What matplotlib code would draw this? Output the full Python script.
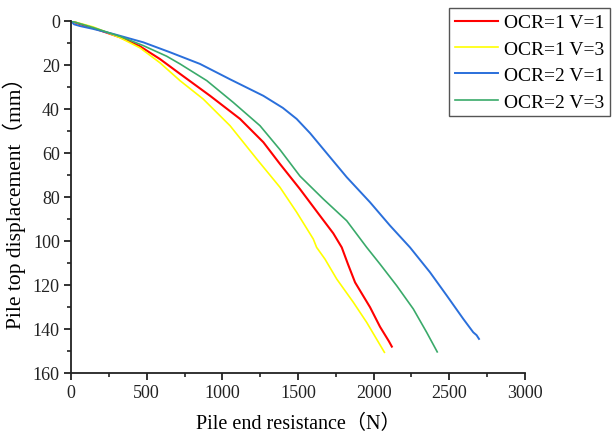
import matplotlib
matplotlib.use("Agg")
import matplotlib.pyplot as plt
from matplotlib.ticker import MultipleLocator

FONT = ['Liberation Serif', 'Noto Sans CJK SC', 'DejaVu Sans']
plt.rcParams['font.family'] = FONT

labels = ["OCR=1 V=1", "OCR=1 V=3", "OCR=2 V=1", "OCR=2 V=3"]
colors = ["#ff0000", "#ffff00", "#2a6fdb", "#3aaa6a"]

red_x = [0, 50, 147, 324, 456, 588, 720, 919, 1117, 1271, 1381, 1513, 1645, 1711, 1733, 1789, 1830, 1877, 1976, 2042, 2100, 2120]
red_y = [0, 1.2, 3.2, 7.4, 11.5, 17.3, 24.0, 34.0, 44.5, 55.1, 65.0, 76.4, 88.5, 94.5, 96.5, 102.9, 110.5, 118.8, 130.1, 139.0, 145.5, 148.0]

yel_x = [0, 147, 324, 456, 588, 720, 874, 1051, 1227, 1381, 1491, 1601, 1623, 1678, 1756, 1866, 1954, 2071]
yel_y = [0, 2.7, 7.6, 12.2, 19.0, 27.1, 35.5, 47.6, 62.7, 75.6, 86.9, 99.1, 102.9, 108.2, 117.3, 127.9, 137.0, 150.6]

blu_x = [0, 20, 60, 147, 280, 478, 654, 852, 1051, 1271, 1400, 1491, 1580, 1667, 1822, 1976, 2108, 2240, 2372, 2483, 2592, 2658, 2680, 2696]
blu_y = [0, 1.5, 2.3, 3.6, 5.9, 9.7, 14.2, 19.5, 26.5, 34.0, 39.5, 44.5, 51.0, 58.2, 71.0, 82.4, 93.0, 102.9, 114.2, 124.8, 135.4, 141.5, 142.8, 144.5]

grn_x = [0, 147, 324, 478, 632, 720, 897, 1072, 1249, 1381, 1513, 1667, 1822, 1954, 2042, 2152, 2262, 2350, 2420]
grn_y = [0, 3.0, 7.0, 11.2, 16.0, 19.5, 27.1, 37.0, 47.6, 58.5, 70.5, 80.9, 90.8, 102.9, 110.5, 120.3, 130.9, 141.5, 150.4]

series = [(red_x, red_y), (yel_x, yel_y), (blu_x, blu_y), (grn_x, grn_y)]
widths = [1.5, 1.2, 1.4, 1.2]

fig = plt.figure(figsize=(6.12, 4.39), dpi=100)
ax = fig.add_axes([71/612, 1-374/439, (525-71)/612, (374-22)/439])

for (xs, ys), c, lab, lw in zip(series, colors, labels, widths):
    ax.plot(xs, ys, color=c, lw=lw, label=lab)

ax.set_xlim(0, 3000)
ax.set_ylim(160, 0)
ax.xaxis.set_major_locator(MultipleLocator(500))
ax.xaxis.set_minor_locator(MultipleLocator(250))
ax.yaxis.set_major_locator(MultipleLocator(20))
ax.yaxis.set_minor_locator(MultipleLocator(10))
for s in ['top', 'right']:
    ax.spines[s].set_visible(False)
for s in ['left', 'bottom']:
    ax.spines[s].set_linewidth(1.3)
    ax.spines[s].set_color('#222222')
ax.tick_params(which='major', direction='out', length=5, width=1.3, labelsize=13,
               colors='#222222', pad=3)
ax.tick_params(which='minor', direction='out', length=3, width=1.2, colors='#222222')

ax.set_xlabel("Pile end resistance（N）", fontsize=14.5, family=FONT, labelpad=9)
ax.set_ylabel("Pile top displacement（mm）", fontsize=15.5, family=FONT, labelpad=5)

leg = fig.legend(loc='upper left', bbox_to_anchor=(449/612, 1-9/439), borderaxespad=0,
                 fontsize=14, frameon=True, fancybox=False, edgecolor='#555555',
                 framealpha=1, handlelength=2.2, handletextpad=0.31, labelspacing=0.45,
                 borderpad=0.3)
leg.get_frame().set_linewidth(1.0)

fig.savefig("out.png", dpi=100)
